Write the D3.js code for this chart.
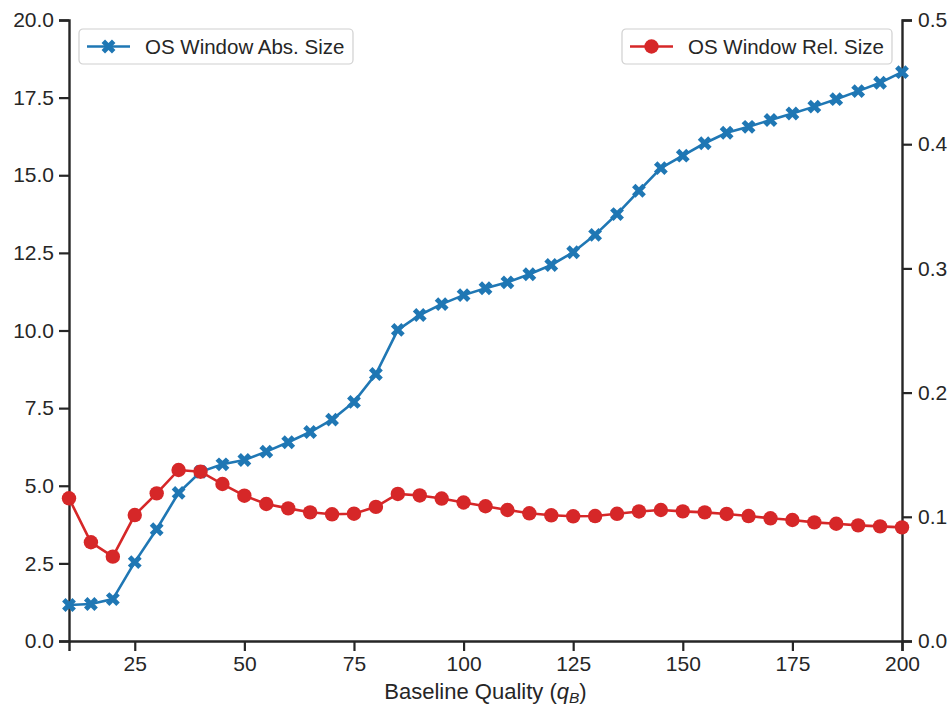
<!DOCTYPE html>
<html>
<head>
<meta charset="utf-8">
<script src="https://cdn.jsdelivr.net/npm/d3@7"></script>
<style>
  html, body { margin: 0; padding: 0; background: #fff; }
  svg { display: block; font-family: "Liberation Sans", Arial, Helvetica, sans-serif; }
</style>
</head>
<body>
<svg id="chart" width="952" height="711"></svg>
<script>
// Baseline quality values (x)
const quality = [10, 15, 20, 25, 30, 35, 40, 45, 50, 55, 60, 65, 70, 75, 80, 85, 90, 95, 100,
  105, 110, 115, 120, 125, 130, 135, 140, 145, 150, 155, 160, 165, 170, 175, 180, 185, 190, 195, 200];

// Absolute OS window size (left axis)
const absSize = [1.16, 1.19, 1.35, 2.54, 3.60, 4.77, 5.45, 5.69, 5.83, 6.10, 6.40, 6.73, 7.13, 7.70,
  8.60, 10.02, 10.50, 10.85, 11.14, 11.36, 11.55, 11.81, 12.11, 12.52, 13.08, 13.75, 14.50, 15.23,
  15.63, 16.03, 16.37, 16.56, 16.78, 16.99, 17.21, 17.45, 17.71, 17.98, 18.32];

// Relative OS window size (right axis)
const relSize = [0.1149, 0.0795, 0.0679, 0.1014, 0.1189, 0.1377, 0.1363, 0.1264, 0.1170, 0.1103,
  0.1068, 0.1036, 0.1020, 0.1025, 0.1080, 0.1184, 0.1172, 0.1147, 0.1115, 0.1085, 0.1055, 0.1028,
  0.1012, 0.1004, 0.1006, 0.1024, 0.1043, 0.1055, 0.1044, 0.1036, 0.1023, 0.1006, 0.0988, 0.0974,
  0.0955, 0.0944, 0.0931, 0.0923, 0.0915];

const xTicks = [25, 50, 75, 100, 125, 150, 175, 200];
const leftTicks = [0, 2.5, 5, 7.5, 10, 12.5, 15, 17.5, 20];
const rightTicks = [0, 0.1, 0.2, 0.3, 0.4, 0.5];

const seriesNames = ["OS Window Abs. Size", "OS Window Rel. Size"];
const blue = "#1f77b4", red = "#d62728", ink = "#262626";

const svg = d3.select("#chart");
const m = { left: 69, right: 50, top: 20, bottom: 70 };
const W = 952, H = 711;

const x = d3.scaleLinear().domain([10, 200]).range([m.left, W - m.right]);
const yL = d3.scaleLinear().domain([0, 20]).range([H - m.bottom, m.top]);
const yR = d3.scaleLinear().domain([0, 0.5]).range([H - m.bottom, m.top]);

const tickFont = 21;
const legendFont = 20.5;

function styleAxis(g) {
  g.selectAll(".domain").attr("stroke", ink).attr("stroke-width", 2.4);
  g.selectAll(".tick line").attr("stroke", ink).attr("stroke-width", 2.2);
  g.selectAll(".tick text").attr("fill", ink).attr("font-size", tickFont)
    .attr("font-family", "Liberation Sans, Arial, sans-serif");
}

// X axis
svg.append("g")
  .attr("transform", `translate(0,${H - m.bottom})`)
  .call(d3.axisBottom(x).tickValues(xTicks).tickSizeOuter(0).tickSize(10).tickPadding(5).tickFormat(d3.format("d")))
  .call(styleAxis);

// Left axis
svg.append("g")
  .attr("transform", `translate(${m.left},0)`)
  .call(d3.axisLeft(yL).tickValues(leftTicks).tickSizeOuter(0).tickSize(10).tickPadding(5).tickFormat(d3.format(".1f")))
  .call(styleAxis);

// Right axis
svg.append("g")
  .attr("transform", `translate(${W - m.right},0)`)
  .call(d3.axisRight(yR).tickValues(rightTicks).tickSizeOuter(0).tickSize(10).tickPadding(6).tickFormat(d3.format(".1f")))
  .call(styleAxis);

// X axis title
const title = svg.append("text")
  .attr("x", (m.left + W - m.right) / 2)
  .attr("y", 699)
  .attr("text-anchor", "middle")
  .attr("fill", ink)
  .attr("font-size", 22);
title.append("tspan").text("Baseline Quality (");
title.append("tspan").attr("font-style", "italic").text("q");
title.append("tspan").attr("font-style", "italic").attr("font-size", 15.5).attr("dy", 4).text("B");
title.append("tspan").attr("dy", -4).text(")");

// Marker shapes
const xMarker = d3.symbol().type(d3.symbolCross).size(120)();

// Absolute size series
const lineL = d3.line().x((d, i) => x(quality[i])).y(d => yL(d));
svg.append("path").datum(absSize)
  .attr("d", lineL).attr("fill", "none").attr("stroke", blue).attr("stroke-width", 2.6);
svg.append("g").selectAll("path").data(absSize).join("path")
  .attr("d", xMarker)
  .attr("transform", (d, i) => `translate(${x(quality[i])},${yL(d)}) rotate(45)`)
  .attr("fill", blue);

// Relative size series
const lineR = d3.line().x((d, i) => x(quality[i])).y(d => yR(d));
svg.append("path").datum(relSize)
  .attr("d", lineR).attr("fill", "none").attr("stroke", red).attr("stroke-width", 2.6);
svg.append("g").selectAll("circle").data(relSize).join("circle")
  .attr("cx", (d, i) => x(quality[i])).attr("cy", d => yR(d))
  .attr("r", 7.2).attr("fill", red);

// Legends
function legend(x0, y0, w, label, color, kind) {
  const g = svg.append("g").attr("transform", `translate(${x0},${y0})`);
  g.append("rect").attr("width", w).attr("height", 35).attr("rx", 4)
    .attr("fill", "#fff").attr("fill-opacity", 0.85).attr("stroke", "#d0d0d0").attr("stroke-width", 1.2);
  g.append("line").attr("x1", 8).attr("x2", 51).attr("y1", 17.5).attr("y2", 17.5)
    .attr("stroke", color).attr("stroke-width", 2.6);
  if (kind === "x") {
    g.append("path").attr("d", xMarker)
      .attr("transform", "translate(29.5,17.5) rotate(45)").attr("fill", color);
  } else {
    g.append("circle").attr("cx", 29.5).attr("cy", 17.5).attr("r", 7.2).attr("fill", color);
  }
  g.append("text").attr("x", 66).attr("y", 25).attr("fill", ink)
    .attr("font-size", legendFont).text(label);
}
legend(79, 29, 274, seriesNames[0], blue, "x");
legend(622, 29, 270, seriesNames[1], red, "o");
</script>
</body>
</html>
